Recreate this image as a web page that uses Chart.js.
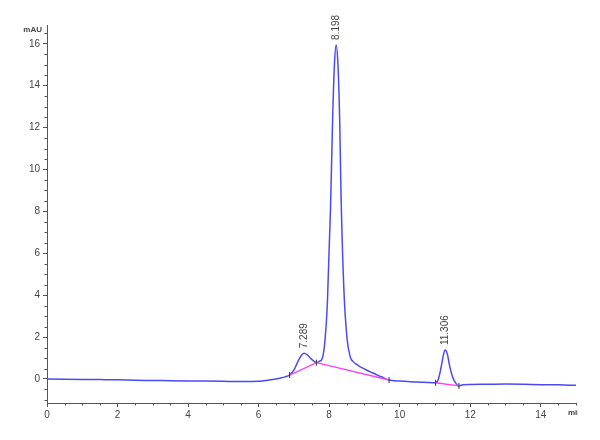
<!DOCTYPE html>
<html>
<head>
<meta charset="utf-8">
<script src="https://cdn.jsdelivr.net/npm/chart.js@4.4.1/dist/chart.umd.min.js"></script>
<style>
  html, body { margin: 0; padding: 0; background: #ffffff; }
  #wrap { width: 600px; height: 440px; }
</style>
</head>
<body>
<div id="wrap"><canvas id="c" width="600" height="440"></canvas></div>
<script>
// ---- Data ----
const timeMin = [0, 0.5, 1, 1.5, 2, 2.5, 3, 3.5, 4, 4.5, 5, 5.5, 6, 6.3, 6.6, 6.75, 6.88, 7.0, 7.1, 7.2, 7.29, 7.38, 7.5, 7.64, 7.72, 7.81, 7.88, 7.95, 8.04, 8.1, 8.15, 8.198, 8.25, 8.3, 8.34, 8.42, 8.51, 8.6, 8.68, 8.78, 8.87, 9.0, 9.15, 9.3, 9.43, 9.55, 9.7, 10.0, 10.5, 10.94, 11.02, 11.1, 11.18, 11.24, 11.29, 11.35, 11.42, 11.5, 11.6, 11.68, 11.8, 12.0, 12.5, 13.0, 13.5, 14.0, 14.5, 15.0];
const signalMAU = [0.0, -0.01, -0.02, -0.03, -0.04, -0.06, -0.07, -0.08, -0.09, -0.10, -0.11, -0.12, -0.11, -0.05, 0.04, 0.10, 0.19, 0.42, 0.78, 1.10, 1.23, 1.15, 0.95, 0.78, 0.84, 1.0, 1.8, 3.6, 8.2, 12.5, 15.0, 15.95, 15.0, 12.3, 8.6, 4.2, 1.9, 1.05, 0.83, 0.70, 0.59, 0.48, 0.35, 0.24, 0.14, 0.05, -0.05, -0.10, -0.14, -0.18, -0.18, 0.0, 0.6, 1.15, 1.38, 1.2, 0.6, 0.1, -0.22, -0.33, -0.27, -0.26, -0.25, -0.24, -0.25, -0.27, -0.28, -0.30];

// integration baseline segments (null = break)
const baseTime = [6.88, 7.64, 9.70, null, 11.02, 11.68];
const baseMAU  = [0.19, 0.78, -0.05, null, -0.18, -0.33];

// peak retention times / apex heights / labels
const peakTime  = [7.289, 8.198, 11.306];
const peakMAU   = [1.23, 15.95, 1.38];
const peakLabel = ['7.289', '8.198', '11.306'];

// tick labels
const xTicks = [0, 2, 4, 6, 8, 10, 12, 14];
const yTicks = [0, 2, 4, 6, 8, 10, 12, 14, 16];
const xMinorStep = 0.5;
const yMinorStep = 0.5;
const yUnit = 'mAU';
const xUnit = 'min';

// ---- Build datasets ----
const signalPts = timeMin.map((t, i) => ({ x: t, y: signalMAU[i] }));
const basePts = baseTime.map((t, i) => (t === null ? { x: NaN, y: null } : { x: t, y: baseMAU[i] }));
const markPts = baseTime.filter(t => t !== null).map((t, i) => ({ x: t, y: baseMAU.filter(v => v !== null)[i] }));

const FONT = '"Liberation Sans Narrow", "Liberation Sans", Arial, sans-serif';
const TXT = '#444444';
const AX = '#555555';

const overlay = {
  id: 'overlay',
  afterDraw(chart) {
    const ctx = chart.ctx;
    const xs = chart.scales.x, ys = chart.scales.y;
    const ca = chart.chartArea;
    ctx.save();
    ctx.strokeStyle = AX;
    ctx.lineWidth = 1;
    // minor ticks x
    ctx.beginPath();
    for (let v = xs.min; v <= xs.max + 1e-9; v += xMinorStep) {
      if (Math.abs(v / 2 - Math.round(v / 2)) < 1e-6) continue;
      const px = Math.round(xs.getPixelForValue(v)) + 0.5;
      ctx.moveTo(px, ca.bottom);
      ctx.lineTo(px, ca.bottom + 2.5);
    }
    // minor ticks y
    for (let v = Math.ceil(ys.min / yMinorStep) * yMinorStep; v <= ys.max + 1e-9; v += yMinorStep) {
      if (Math.abs(v / 2 - Math.round(v / 2)) < 1e-6) continue;
      const py = Math.round(ys.getPixelForValue(v)) + 0.5;
      ctx.moveTo(ca.left, py);
      ctx.lineTo(ca.left - 2.5, py);
    }
    ctx.stroke();

    // peak labels
    ctx.fillStyle = TXT;
    ctx.font = '10px ' + FONT;
    ctx.textAlign = 'left';
    ctx.textBaseline = 'middle';
    peakTime.forEach((t, i) => {
      const px = xs.getPixelForValue(t);
      const py = ys.getPixelForValue(peakMAU[i]);
      ctx.save();
      ctx.translate(px, py - 5);
      ctx.rotate(-Math.PI / 2);
      ctx.fillText(peakLabel[i], 0, 0);
      ctx.restore();
    });

    // unit labels
    ctx.font = 'bold 8px ' + FONT;
    ctx.textAlign = 'right';
    ctx.textBaseline = 'middle';
    ctx.fillText(yUnit, ca.left - 5, ca.top + 5);
    ctx.save();
    ctx.beginPath();
    ctx.rect(0, 0, ca.right + 2, chart.height);
    ctx.clip();
    ctx.textAlign = 'left';
    ctx.fillText(xUnit, ca.right - 8, ca.bottom + 10);
    ctx.restore();
    ctx.restore();
  }
};

new Chart(document.getElementById('c'), {
  type: 'line',
  data: {
    datasets: [
      {
        data: signalPts,
        borderColor: '#4a4af5',
        borderWidth: 1.5,
        pointRadius: 0,
        cubicInterpolationMode: 'monotone',
        fill: false,
        order: 2
      },
      {
        data: basePts,
        borderColor: '#ff3df5',
        borderWidth: 1.4,
        pointRadius: 0,
        spanGaps: false,
        tension: 0,
        fill: false,
        order: 1
      },
      {
        data: markPts,
        showLine: false,
        pointStyle: 'line',
        rotation: 90,
        pointRadius: 3,
        pointBorderWidth: 1,
        pointBorderColor: '#333333',
        pointBackgroundColor: '#333333',
        order: 0
      }
    ]
  },
  options: {
    responsive: false,
    animation: false,
    devicePixelRatio: 1,
    layout: { padding: { top: 25, right: 24, left: 0, bottom: 0 } },
    plugins: { legend: { display: false }, tooltip: { enabled: false } },
    scales: {
      x: {
        type: 'linear',
        min: 0,
        max: 15,
        afterBuildTicks: s => { s.ticks = xTicks.map(v => ({ value: v })); },
        afterFit: s => { s.height = 37; },
        grid: { drawOnChartArea: false, drawTicks: true, tickLength: 4, tickColor: AX },
        border: { display: true, color: AX, width: 1 },
        ticks: { color: TXT, font: { family: FONT, size: 10 }, padding: 2, maxRotation: 0, autoSkip: false }
      },
      y: {
        type: 'linear',
        min: -1.146,
        max: 16.9,
        afterBuildTicks: s => { s.ticks = yTicks.map(v => ({ value: v })); },
        afterFit: s => { s.width = 47; },
        grid: { drawOnChartArea: false, drawTicks: true, tickLength: 4, tickColor: AX },
        border: { display: true, color: AX, width: 1 },
        ticks: { color: TXT, font: { family: FONT, size: 10 }, padding: 3, autoSkip: false }
      }
    }
  },
  plugins: [overlay]
});
</script>
</body>
</html>
